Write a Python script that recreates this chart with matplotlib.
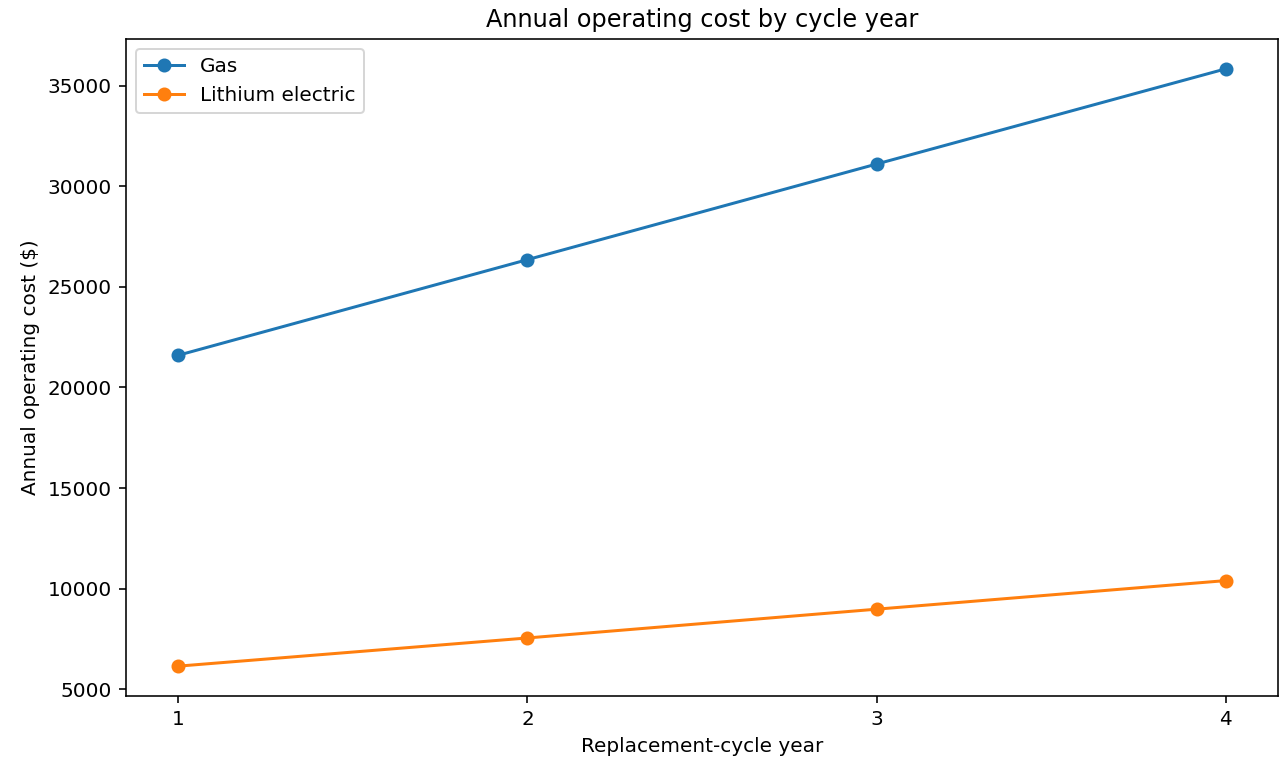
import matplotlib
matplotlib.use("Agg")
import matplotlib.pyplot as plt

years = [1, 2, 3, 4]
gas = [21600, 26350, 31100, 35830]
lithium = [6150, 7550, 8980, 10400]

W, H = 1281, 762
fig, ax = plt.subplots(figsize=(W / 144, H / 144), dpi=144)
ax.plot(years, gas, marker="o", label="Gas")
ax.plot(years, lithium, marker="o", label="Lithium electric")
ax.set_xticks(years)
ax.set_xlabel("Replacement-cycle year")
ax.set_ylabel("Annual operating cost ($)")
ax.set_title("Annual operating cost by cycle year")
ax.legend(loc="upper left")
fig.subplots_adjust(left=126 / W, right=1278 / W, top=1 - 39 / H, bottom=1 - 696 / H)
fig.savefig("out.png", dpi=144)
